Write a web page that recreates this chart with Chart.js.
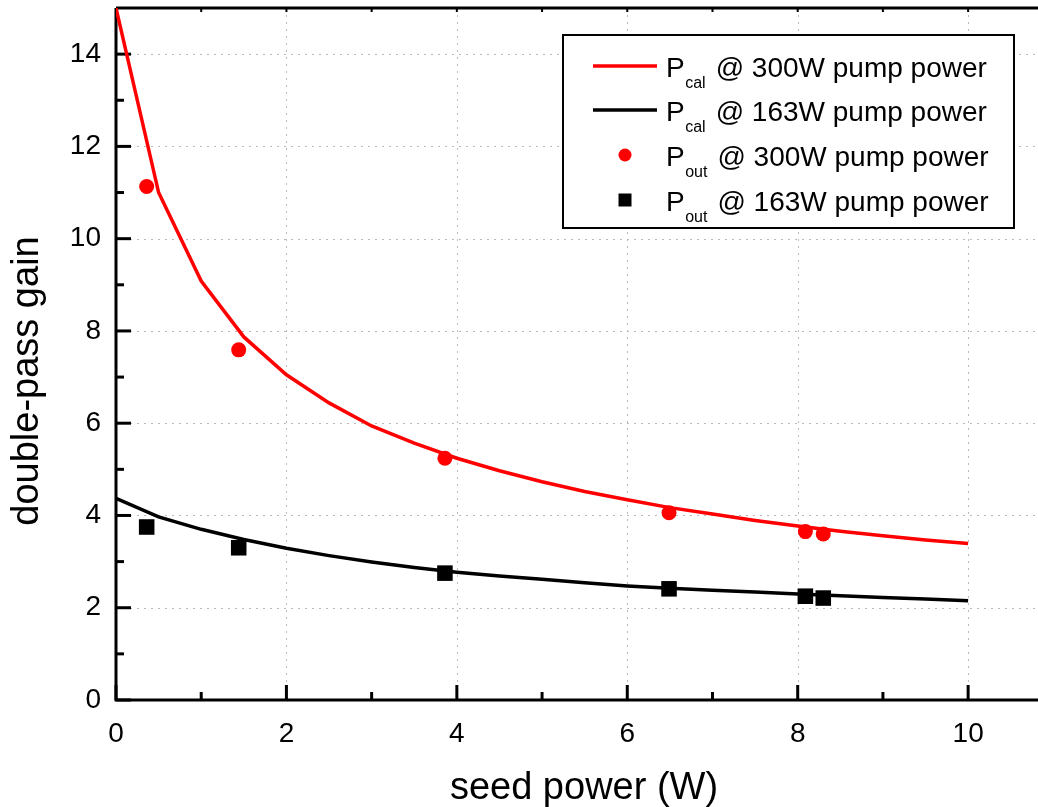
<!DOCTYPE html>
<html>
<head>
<meta charset="utf-8">
<script src="https://cdn.jsdelivr.net/npm/chart.js@4.4.1/dist/chart.umd.min.js"></script>
<style>
  html, body { margin: 0; padding: 0; background: #ffffff; }
  #wrap { width: 1038px; height: 807px; overflow: hidden; }
</style>
</head>
<body>
<div id="wrap"><canvas id="c" width="1038" height="807"></canvas></div>
<script>
// ---- data ----
const curveX = [0, 0.5, 1, 1.5, 2, 2.5, 3, 3.5, 4, 4.5, 5, 5.5, 6, 6.5, 7, 7.5, 8, 8.5, 9, 9.5, 10];
const calc300 = [15.0, 11.0, 9.08, 7.87, 7.05, 6.44, 5.94, 5.57, 5.24, 4.97, 4.73, 4.52, 4.34, 4.17, 4.03, 3.89, 3.77, 3.66, 3.56, 3.47, 3.39];
const calc163 = [4.37, 3.97, 3.70, 3.48, 3.29, 3.13, 2.99, 2.87, 2.77, 2.69, 2.62, 2.54, 2.47, 2.42, 2.38, 2.34, 2.30, 2.26, 2.22, 2.19, 2.15];
const measX = [0.36, 1.44, 3.86, 6.49, 8.09, 8.30];
const meas300 = [11.13, 7.59, 5.24, 4.06, 3.65, 3.60];
const meas163 = [3.75, 3.30, 2.75, 2.41, 2.25, 2.21];
const xMajorTicks = [0, 2, 4, 6, 8, 10];
const xMinorTicks = [1, 3, 5, 7, 9];
const yMajorTicks = [0, 2, 4, 6, 8, 10, 12, 14];
const yMinorTicks = [1, 3, 5, 7, 9, 11, 13];
const xTitle = 'seed power (W)';
const yTitle = 'double-pass gain';
const legendMain = ['P', 'P', 'P', 'P'];
const legendSub = ['cal', 'cal', 'out', 'out'];
const legendRest = ['@ 300W pump power', '@ 163W pump power', '@ 300W pump power', '@ 163W pump power'];

const RED = '#ff0000', BLACK = '#000000';
const FONT = '"Liberation Sans", Arial, sans-serif';

function pts(xs, ys) { return xs.map((x, i) => ({ x: x, y: ys[i] })); }

const decor = {
  id: 'decor',
  beforeDatasetsDraw(chart) {
    const { ctx, chartArea: a, scales: { x, y } } = chart;
    ctx.save();
    // dotted grid
    ctx.strokeStyle = '#b9b9b9';
    ctx.lineWidth = 1;
    ctx.setLineDash([2, 5]);
    xMajorTicks.forEach(v => {
      if (v === 0) return;
      const px = Math.round(x.getPixelForValue(v)) + 0.5;
      ctx.beginPath(); ctx.moveTo(px, a.top); ctx.lineTo(px, a.bottom); ctx.stroke();
    });
    yMajorTicks.forEach(v => {
      if (v === 0) return;
      const py = Math.round(y.getPixelForValue(v)) + 0.5;
      ctx.beginPath(); ctx.moveTo(a.left, py); ctx.lineTo(a.right, py); ctx.stroke();
    });
    ctx.setLineDash([]);
    // axes lines
    ctx.strokeStyle = BLACK;
    ctx.lineWidth = 3;
    ctx.beginPath();
    ctx.moveTo(a.left, a.top); ctx.lineTo(a.left, a.bottom); ctx.lineTo(a.right, a.bottom);
    ctx.moveTo(a.left, a.top); ctx.lineTo(a.right, a.top);
    ctx.stroke();
    // ticks
    ctx.lineWidth = 3;
    xMajorTicks.forEach(v => {
      const px = x.getPixelForValue(v);
      ctx.beginPath(); ctx.moveTo(px, a.bottom); ctx.lineTo(px, a.bottom - 15); ctx.stroke();
    });
    xMinorTicks.forEach(v => {
      const px = x.getPixelForValue(v);
      ctx.beginPath(); ctx.moveTo(px, a.bottom); ctx.lineTo(px, a.bottom - 8); ctx.stroke();
    });
    yMajorTicks.forEach(v => {
      const py = y.getPixelForValue(v);
      ctx.beginPath(); ctx.moveTo(a.left, py); ctx.lineTo(a.left + 15, py); ctx.stroke();
    });
    yMinorTicks.forEach(v => {
      const py = y.getPixelForValue(v);
      ctx.beginPath(); ctx.moveTo(a.left, py); ctx.lineTo(a.left + 8, py); ctx.stroke();
    });
    // top axis small ticks
    ctx.lineWidth = 2;
    xMajorTicks.concat(xMinorTicks).forEach(v => {
      const px = x.getPixelForValue(v);
      ctx.beginPath(); ctx.moveTo(px, a.top); ctx.lineTo(px, a.top + 4); ctx.stroke();
    });
    ctx.restore();
  },
  afterDraw(chart) {
    const { ctx } = chart;
    ctx.save();
    // axis titles
    ctx.fillStyle = BLACK;
    ctx.font = '38px ' + FONT;
    ctx.textAlign = 'center';
    ctx.textBaseline = 'alphabetic';
    ctx.fillText(xTitle, 584, 799);
    ctx.save();
    ctx.translate(38, 381);
    ctx.rotate(-Math.PI / 2);
    ctx.fillText(yTitle, 0, 0);
    ctx.restore();

    // legend box
    const bx = 563, by = 35, bw = 451, bh = 193;
    ctx.fillStyle = '#ffffff';
    ctx.fillRect(bx, by, bw, bh);
    ctx.strokeStyle = BLACK;
    ctx.lineWidth = 2;
    ctx.strokeRect(bx, by, bw, bh);
    const rows = [66, 110, 155, 200];
    const ds = chart.data.datasets;
    rows.forEach((cy, i) => {
      const d = ds[i];
      if (d.showLine) {
        ctx.strokeStyle = d.borderColor;
        ctx.lineWidth = 3.5;
        ctx.beginPath(); ctx.moveTo(593, cy); ctx.lineTo(657, cy); ctx.stroke();
      } else {
        ctx.fillStyle = d.backgroundColor;
        if (d.pointStyle === 'rect') {
          ctx.fillRect(625 - 6.5, cy - 6.5, 13, 13);
        } else {
          ctx.beginPath(); ctx.arc(625, cy, 6.5, 0, Math.PI * 2); ctx.fill();
        }
      }
      ctx.fillStyle = BLACK;
      ctx.textAlign = 'left';
      ctx.textBaseline = 'alphabetic';
      ctx.font = '28px ' + FONT;
      let tx = 666;
      const base = cy + 11;
      ctx.fillText(legendMain[i], tx, base);
      tx += ctx.measureText(legendMain[i]).width + 0.5;
      ctx.font = '16px ' + FONT;
      ctx.fillText(legendSub[i], tx, base + 11);
      tx += ctx.measureText(legendSub[i]).width + 10;
      ctx.font = '28px ' + FONT;
      ctx.fillText(legendRest[i], tx, base);
    });
    ctx.restore();
  }
};

function noPad(s) { s.paddingTop = 0; s.paddingBottom = 0; s.paddingLeft = 0; s.paddingRight = 0; }

new Chart(document.getElementById('c'), {
  type: 'line',
  data: {
    datasets: [
      { label: 'Pcal @ 300W pump power', data: pts(curveX, calc300), borderColor: RED, backgroundColor: RED,
        borderWidth: 3.5, pointRadius: 0, tension: 0, showLine: true, order: 2 },
      { label: 'Pcal @ 163W pump power', data: pts(curveX, calc163), borderColor: BLACK, backgroundColor: BLACK,
        borderWidth: 3.5, pointRadius: 0, tension: 0, showLine: true, order: 2 },
      { label: 'Pout @ 300W pump power', data: pts(measX, meas300), borderColor: RED, backgroundColor: RED,
        showLine: false, pointStyle: 'circle', pointRadius: 7.5, pointBorderWidth: 0, order: 1 },
      { label: 'Pout @ 163W pump power', data: pts(measX, meas163), borderColor: BLACK, backgroundColor: BLACK,
        showLine: false, pointStyle: 'rect', pointRadius: 11, pointBorderWidth: 0, order: 1 }
    ]
  },
  options: {
    responsive: false,
    animation: false,
    devicePixelRatio: 1,
    layout: { autoPadding: false, padding: { top: 8, right: 0, left: 0, bottom: 0 } },
    plugins: { legend: { display: false }, tooltip: { enabled: false } },
    scales: {
      x: {
        type: 'linear', min: 0, max: 10.82,
        afterFit(s) { s.height = 107; noPad(s); },
        grid: { display: false, drawTicks: false },
        border: { display: false },
        ticks: { stepSize: 2, includeBounds: false, color: BLACK, padding: 17,
                 font: { family: FONT, size: 28 }, maxRotation: 0 }
      },
      y: {
        type: 'linear', min: 0, max: 15,
        afterFit(s) { s.width = 116; noPad(s); },
        grid: { display: false, drawTicks: false },
        border: { display: false },
        ticks: { stepSize: 2, includeBounds: false, color: BLACK, padding: 15,
                 font: { family: FONT, size: 28 } }
      }
    }
  },
  plugins: [decor]
});
</script>
</body>
</html>
